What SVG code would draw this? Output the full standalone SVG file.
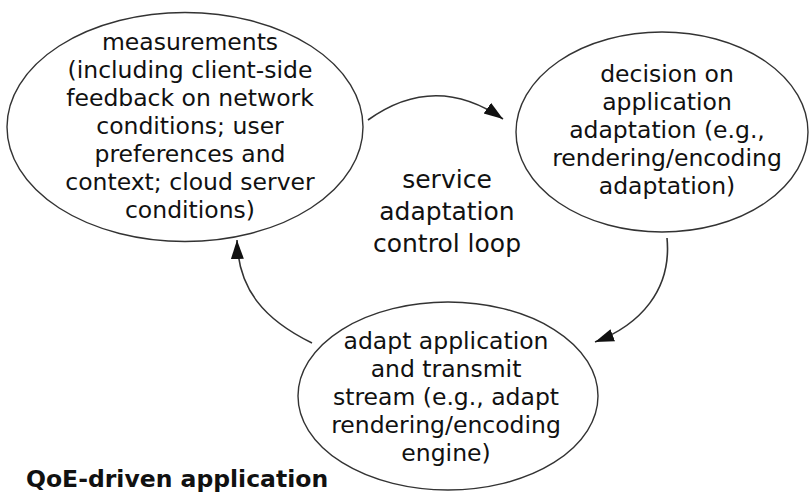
<svg xmlns="http://www.w3.org/2000/svg" width="810" height="493" viewBox="0 0 810 493">
<style>
.node ellipse{fill:#fff;stroke:#333;stroke-width:1.4}
.t{font-family:"DejaVu Sans","Liberation Sans",sans-serif;font-size:23.5px;fill:#111;text-anchor:middle}
.c{font-size:25px}
.edge{fill:none;stroke:#333;stroke-width:1.6;marker-end:url(#ah)}
.title{font-family:"DejaVu Sans","Liberation Sans",sans-serif;font-size:23.5px;font-weight:bold;fill:#111}
</style>
<defs>
<marker id="ah" markerUnits="userSpaceOnUse" markerWidth="20" markerHeight="14" refX="19" refY="6.5" orient="auto">
<path d="M0,0 L19,6.5 L0,13 z" fill="#111"/>
</marker>
</defs>
<rect width="810" height="493" fill="#fff"/>
<g id="connectors">
<path class="edge" d="M368,120 Q435,72 503,119"/>
<path class="edge" d="M667,238 C672,290 640,325 595,342"/>
<path class="edge" d="M312,343 C265,320 238,290 237,240"/>
</g>
<g id="measurements" class="node">
<ellipse cx="185" cy="127" rx="178" ry="114.5"/>
<text class="t" x="190" y="50">measurements</text>
<text class="t" x="190" y="78">(including client-side</text>
<text class="t" x="190" y="106">feedback on network</text>
<text class="t" x="190" y="134">conditions; user</text>
<text class="t" x="190" y="162">preferences and</text>
<text class="t" x="190" y="190">context; cloud server</text>
<text class="t" x="190" y="218">conditions)</text>
</g>
<g id="decision" class="node">
<ellipse cx="662" cy="132" rx="146" ry="100"/>
<text class="t" x="667" y="82">decision on</text>
<text class="t" x="667" y="110">application</text>
<text class="t" x="667" y="138">adaptation (e.g.,</text>
<text class="t" x="667" y="166">rendering/encoding</text>
<text class="t" x="667" y="194">adaptation)</text>
</g>
<g id="adapt" class="node">
<ellipse cx="448" cy="396" rx="150" ry="94"/>
<text class="t" x="446" y="349">adapt application</text>
<text class="t" x="446" y="377">and transmit</text>
<text class="t" x="446" y="405">stream (e.g., adapt</text>
<text class="t" x="446" y="433">rendering/encoding</text>
<text class="t" x="446" y="461">engine)</text>
</g>
<g id="loop-label">
<text class="t c" x="447" y="188">service</text>
<text class="t c" x="447" y="220">adaptation</text>
<text class="t c" x="447" y="252">control loop</text>
</g>
<g id="title">
<text class="title" x="26" y="487">QoE-driven application</text>
</g>
</svg>
